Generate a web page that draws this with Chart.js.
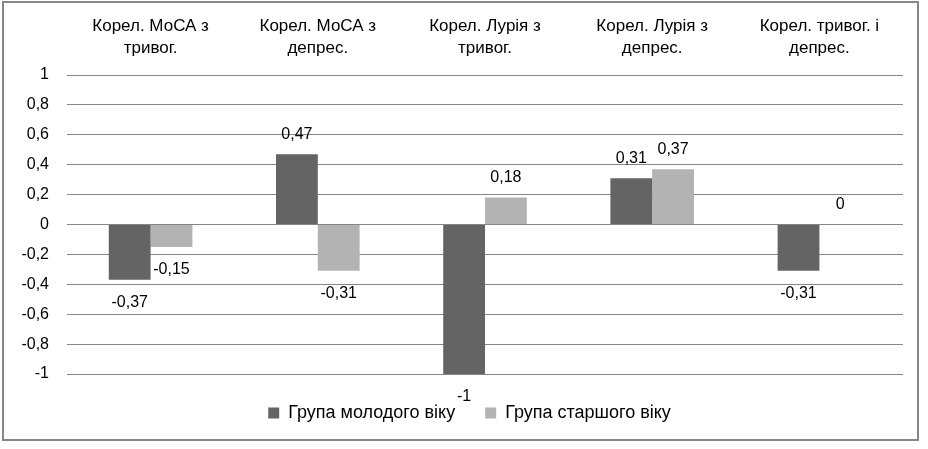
<!DOCTYPE html>
<html>
<head>
<meta charset="utf-8">
<script src="https://cdn.jsdelivr.net/npm/chart.js@4"></script>
<style>
  html, body { margin: 0; padding: 0; background: #fff; }
  #wrap { width: 928px; height: 449px; }
</style>
</head>
<body>
<div id="wrap"><canvas id="chart"></canvas></div>
<script>
const categories = [
  ["Корел. МоСА з", "тривог."],
  ["Корел. МоСА з", "депрес."],
  ["Корел. Лурія з", "тривог."],
  ["Корел. Лурія з", "депрес."],
  ["Корел. тривог. і", "депрес."]
];
const youngGroup = [-0.37, 0.47, -1, 0.31, -0.31];
const olderGroup = [-0.15, -0.31, 0.18, 0.37, 0];
const seriesNames = ["Група молодого віку", "Група старшого віку"];
const yTicks = [-1, -0.8, -0.6, -0.4, -0.2, 0, 0.2, 0.4, 0.6, 0.8, 1];

const FONT = "'Liberation Sans', Arial, sans-serif";
const fmt = (v) => String(v).replace(".", ",");

// frame round the whole chart
const framePlugin = {
  id: "frame",
  beforeDraw(chart) {
    const ctx = chart.ctx;
    ctx.save();
    ctx.fillStyle = "#fff";
    ctx.fillRect(0, 0, chart.width, chart.height);
    ctx.strokeStyle = "#868686";
    ctx.lineWidth = 2;
    ctx.strokeRect(3, 2, 915, 438);
    ctx.restore();
  }
};

// value labels above / below each bar
const valueLabels = {
  id: "valueLabels",
  afterDatasetsDraw(chart) {
    const ctx = chart.ctx;
    ctx.save();
    ctx.font = "16px " + FONT;
    ctx.fillStyle = "#000";
    ctx.textAlign = "center";
    ctx.textBaseline = "middle";
    chart.data.datasets.forEach((ds, i) => {
      const meta = chart.getDatasetMeta(i);
      meta.data.forEach((bar, j) => {
        const v = ds.data[j];
        const y = v < 0 ? bar.y + 23 : bar.y - 20;
        ctx.fillText(fmt(v), bar.x, y);
      });
    });
    ctx.restore();
  }
};

new Chart(document.getElementById("chart"), {
  type: "bar",
  data: {
    labels: categories,
    datasets: [
      { label: seriesNames[0], data: youngGroup, backgroundColor: "#646464" },
      { label: seriesNames[1], data: olderGroup, backgroundColor: "#b3b3b3" }
    ]
  },
  options: {
    responsive: true,
    maintainAspectRatio: false,
    animation: false,
    categoryPercentage: 0.5,
    barPercentage: 1.0,
    layout: { padding: { top: 8, left: 18, right: 7, bottom: 17 } },
    plugins: {
      tooltip: { enabled: false },
      legend: {
        position: "bottom",
        labels: {
          color: "#000",
          font: { family: FONT, size: 18 },
          boxWidth: 11,
          boxHeight: 11,
          padding: 30
        }
      }
    },
    scales: {
      x: {
        position: "top",
        grid: { display: false },
        border: { display: false },
        ticks: {
          color: "#000",
          font: { family: FONT, size: 17, lineHeight: 1.3 },
          padding: 8,
          maxRotation: 0
        },
        afterFit(scale) { scale.height = 67; }
      },
      y: {
        min: -1,
        max: 1,
        afterBuildTicks(scale) { scale.ticks = yTicks.map(v => ({ value: v })); },
        grid: { color: "#868686", drawTicks: false },
        border: { display: false },
        ticks: {
          color: "#000",
          font: { family: FONT, size: 16 },
          padding: 18,
          callback: (v) => fmt(v)
        },
        afterFit(scale) { scale.width = 49; }
      },
      // empty right-hand margin so the legend sits centred on the page
      yRight: {
        position: "right",
        grid: { display: false },
        border: { display: false },
        ticks: { display: false },
        afterFit(scale) { scale.width = 18; }
      }
    }
  },
  plugins: [framePlugin, valueLabels]
});
</script>
</body>
</html>
